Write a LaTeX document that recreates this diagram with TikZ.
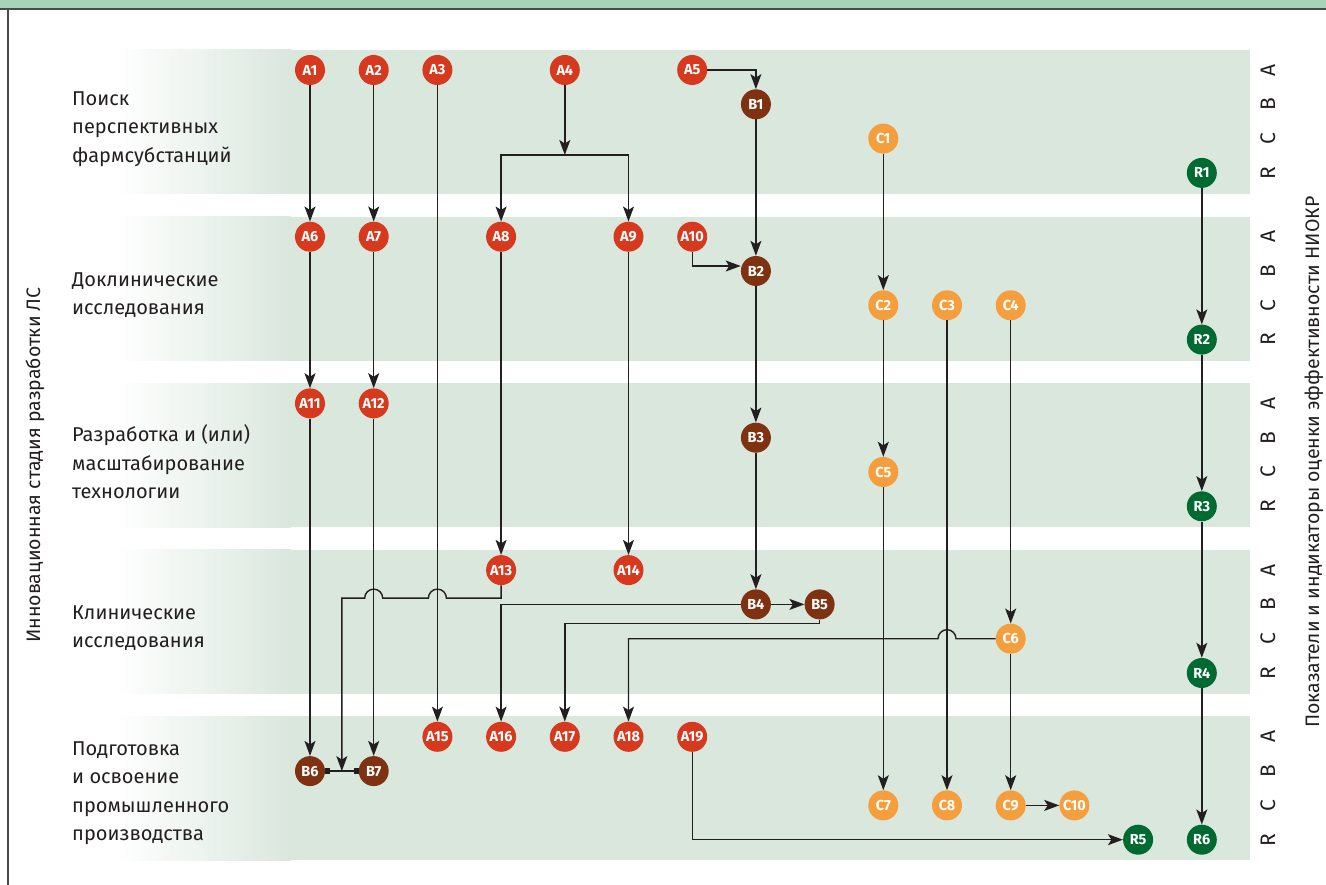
\documentclass[tikz,border=0pt]{standalone}
\usepackage{fontspec}
\setmainfont{Fira Sans}
\usetikzlibrary{arrows.meta,calc}
\definecolor{sgRed}{HTML}{D7391E}
\definecolor{sgBrown}{HTML}{7E3212}
\definecolor{sgOrange}{HTML}{F59E3D}
\definecolor{sgGreen}{HTML}{006A31}
\definecolor{sgBand}{HTML}{DAE7DD}
\definecolor{sgStrip}{HTML}{A7D3B8}
\definecolor{sgInk}{HTML}{231F20}
\definecolor{sgFrame}{HTML}{4A4A4A}
\tikzset{
  sg diagram/.style={x=1pt, y=-1pt, text=sgInk, line join=miter},
  sg dot/.style={circle, minimum size=30pt, inner sep=0pt, text=white,
    font=\fontsize{14.5}{14.5}\selectfont\bfseries},
  sg a/.style={sg dot, fill=sgRed},
  sg b/.style={sg dot, fill=sgBrown},
  sg c/.style={sg dot, fill=sgOrange},
  sg r/.style={sg dot, fill=sgGreen},
  sg link/.style={draw=sgInk, line width=1.4pt},
  sg arrow/.style={sg link, -{Stealth[length=15pt,width=11pt,inset=3.5pt]}},
  sg stage/.style={anchor=west, align=left, inner sep=0pt,
    font=\fontsize{20}{28.5}\selectfont},
  sg side/.style={rotate=90, inner sep=0pt, font=\fontsize{19.5}{22}\selectfont},
  sg row/.style={rotate=90, inner sep=0pt, font=\fontsize{21}{21}\selectfont}
}
\begin{document}
\begin{tikzpicture}[sg diagram]
\useasboundingbox (0,0) rectangle (1326,885);
\fill[sgStrip] (0,0) rectangle (1326,9);
\draw[sgFrame, line width=2pt] (0,9) -- (1326,9);
\draw[sgFrame, line width=1.5pt] (8,9) -- (8,885);
\foreach \b in {0,...,4}{
  \shade[left color=white, right color=sgBand] (115,{50+166.6*\b}) rectangle (291,{194+166.6*\b});
  \fill[sgBand] (290,{50+166.6*\b}) rectangle (1250,{194+166.6*\b});
  \foreach \l/\r in {A/0,B/1,C/2,R/3}
    \node[sg row] (row\b\l) at (1268,{70+166.7*\b+34.3*\r}) {\l};
}
\node[sg stage] (stage1) at (72,129) {Поиск\\перспективных\\фармсубстанций};
\node[sg stage] (stage2) at (72,295) {Доклинические\\исследования};
\node[sg stage] (stage3) at (72,462) {Разработка и (или)\\масштабирование\\технологии};
\node[sg stage] (stage4) at (72,628) {Клинические\\исследования};
\node[sg stage] (stage5) at (72,793) {Подготовка\\и освоение\\промышленного\\производства};
\node[sg side] (stageaxis) at (35,465) {Инновационная стадия разработки ЛС};
\node[sg side] (rowaxis) at (1314,462) {Показатели и индикаторы оценки эффективности НИОКР};
\foreach \n/\c/\b/\r/\s in {
  A1/0/0/0/a, A2/1/0/0/a, A3/2/0/0/a, A4/4/0/0/a, A5/6/0/0/a, B1/7/0/1/b, C1/9/0/2/c, R1/14/0/3/r,
  A6/0/1/0/a, A7/1/1/0/a, A8/3/1/0/a, A9/5/1/0/a, A10/6/1/0/a, B2/7/1/1/b, C2/9/1/2/c, C3/10/1/2/c,
  C4/11/1/2/c, R2/14/1/3/r,
  A11/0/2/0/a, A12/1/2/0/a, B3/7/2/1/b, C5/9/2/2/c, R3/14/2/3/r,
  A13/3/3/0/a, A14/5/3/0/a, B4/7/3/1/b, B5/8/3/1/b, C6/11/3/2/c, R4/14/3/3/r,
  A15/2/4/0/a, A16/3/4/0/a, A17/4/4/0/a, A18/5/4/0/a, A19/6/4/0/a, B6/0/4/1/b, B7/1/4/1/b,
  C7/9/4/2/c, C8/10/4/2/c, C9/11/4/2/c, C10/12/4/2/c, R5/13/4/3/r, R6/14/4/3/r}
  \node[sg \s] (\n) at ({310+63.7*\c},{70+166.7*\b+34.3*\r}) {\n};
\foreach \s/\t in {A1/A6, A2/A7, A6/A11, A7/A12, A11/B6, A12/B7, A3/A15, A8/A13, A9/A14,
  B1/B2, B2/B3, B3/B4, B4/B5, C1/C2, C2/C5, C5/C7, C3/C8, C4/C6, C6/C9, C9/C10,
  R1/R2, R2/R3, R3/R4, R4/R6}
  \draw[sg arrow] (\s) -- (\t);
\coordinate (A4split) at ($(A4)+(0,85)$);
\draw[sg arrow] (A4) -- (A4split);
\draw[sg arrow] (A4split) -| (A8);
\draw[sg arrow] (A4split) -| (A9);
\draw[sg arrow] (A5) -| (B1);
\draw[sg arrow] (A10.south) |- ([yshift=5pt]B2.west);
\draw[sg link, {Square[length=5pt,width=6pt]}-{Square[length=5pt,width=6pt]}] (B6) -- (B7);
\coordinate (Bjoin) at ($(B6.east)!0.5!(B7.west)$);
\coordinate (A13lane) at ($(A13)+(0,28)$);
\draw[sg arrow] (A13.south) -- (A13lane)
  -- ($(A3 |- A13lane)+(9,0)$) arc[start angle=0, end angle=180, radius=9pt]
  -- ($(A12 |- A13lane)+(9,0)$) arc[start angle=0, end angle=180, radius=9pt]
  -- (Bjoin |- A13lane) -- (Bjoin);
\draw[sg arrow] (B4) -| (A16);
\coordinate (B5lane) at ($(B5)+(0,19)$);
\draw[sg arrow] (B5.south) -- (B5lane) -| (A17);
\draw[sg arrow] (C6.west)
  -- ($(C3 |- C6)+(9,0)$) arc[start angle=0, end angle=180, radius=9pt]
  -- (A18 |- C6) -- (A18);
\draw[sg arrow] (A19) |- (R5);
\end{tikzpicture}
\end{document}
